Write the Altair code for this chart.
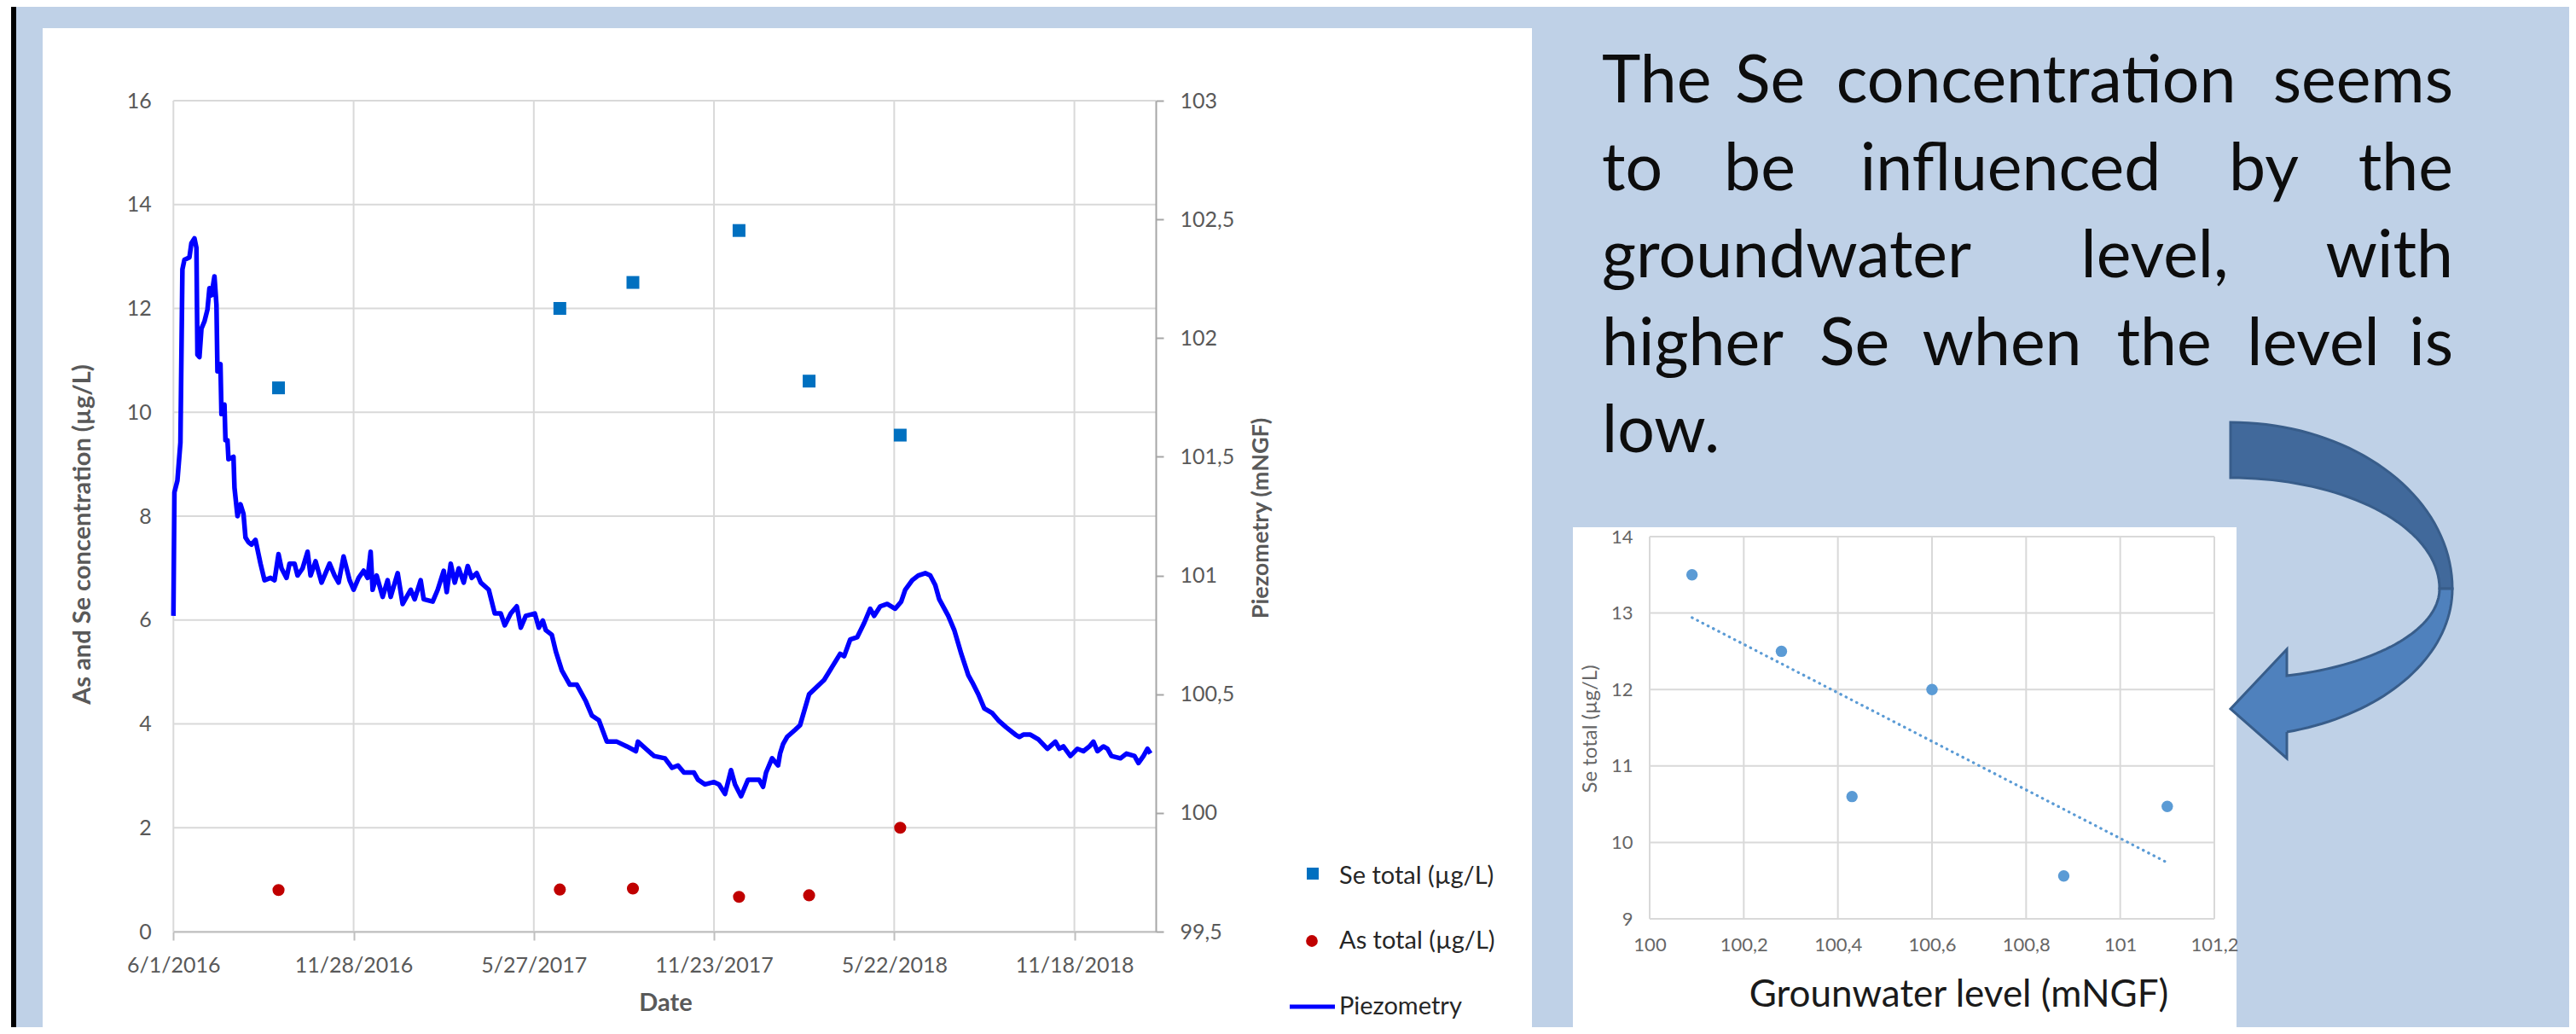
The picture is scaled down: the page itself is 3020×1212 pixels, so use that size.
import altair as alt
import numpy as np
import pandas as pd

# ---------------- data ----------------
START = pd.Timestamp("2016-06-01")

sample_dates = ["2016-09-14", "2017-06-22", "2017-09-03", "2017-12-18", "2018-02-26", "2018-05-28"]
se_total = [10.47, 12.0, 12.5, 13.5, 10.6, 9.56]
as_total = [0.80, 0.81, 0.83, 0.67, 0.70, 2.0]

# piezometry: days since 2016-06-01 and level (mNGF)
piezo_day = [0, 1, 4, 7, 9, 11, 16, 18, 21, 23, 24, 26, 28, 31, 34, 36, 38, 41, 43, 44, 47, 48, 51, 52, 54,
             55, 60, 61, 64, 67, 70, 72, 75, 78, 82, 87, 91, 97, 101, 105, 108, 113, 116, 121, 124, 129,
             134, 137, 142, 148, 156, 161, 165, 170, 176, 180, 185, 190, 194, 197, 199, 203, 209, 214,
             217, 224, 229, 237, 241, 247, 250, 259, 264, 270, 273, 277, 281, 285, 290, 294, 298, 303,
             307, 315, 321, 327, 331, 337, 343, 347, 352, 361, 365, 369, 372, 378, 382, 388, 396, 403,
             412, 418, 425, 433, 443, 453, 462, 464, 472, 480, 491, 498, 504, 510, 520, 524, 531, 540,
             545, 551, 557, 561, 567, 574, 579, 585, 589, 592, 598, 604, 606, 609, 613, 621, 626, 635,
             650, 666, 670, 676, 683, 690, 696, 700, 706, 713, 721, 727, 731, 738, 744, 751, 756, 761,
             765, 774, 780, 787, 794, 798, 804, 810, 818, 824, 832, 841, 845, 849, 856, 864, 873, 881,
             885, 889, 896, 903, 909, 915, 919, 923, 929, 933, 937, 946, 952, 960, 964, 969, 973, 976]
piezo_level = [100.83, 101.35, 101.40, 101.56, 102.29, 102.33, 102.34, 102.40, 102.42, 102.38, 101.93,
               101.92, 102.04, 102.07, 102.12, 102.21, 102.18, 102.26, 102.14, 101.86, 101.89, 101.68,
               101.72, 101.57, 101.57, 101.49, 101.50, 101.37, 101.25, 101.30, 101.26, 101.16, 101.14,
               101.13, 101.15, 101.05, 100.98, 100.99, 100.98, 101.09, 101.03, 100.99, 101.05, 101.05,
               101.00, 101.03, 101.10, 101.00, 101.06, 100.97, 101.05, 101.00, 100.97, 101.08, 100.98,
               100.94, 100.99, 101.02, 100.99, 101.10, 100.94, 101.00, 100.91, 100.98, 100.91, 101.01,
               100.88, 100.94, 100.90, 100.98, 100.90, 100.89, 100.94, 101.02, 100.93, 101.05, 100.97,
               101.03, 100.97, 101.04, 100.99, 101.01, 100.97, 100.94, 100.84, 100.84, 100.79, 100.84,
               100.87, 100.78, 100.83, 100.84, 100.78, 100.81, 100.77, 100.75, 100.68, 100.60, 100.54,
               100.54, 100.47, 100.41, 100.39, 100.30, 100.30, 100.28, 100.26, 100.30, 100.27, 100.24,
               100.23, 100.19, 100.20, 100.17, 100.17, 100.14, 100.12, 100.13, 100.12, 100.08, 100.18,
               100.12, 100.07, 100.14, 100.14, 100.14, 100.11, 100.17, 100.23, 100.20, 100.25, 100.29,
               100.32, 100.35, 100.37, 100.50, 100.56, 100.67, 100.66, 100.73, 100.74, 100.80, 100.86,
               100.83, 100.87, 100.88, 100.86, 100.89, 100.94, 100.98, 101.00, 101.01, 101.00, 100.96,
               100.90, 100.83, 100.77, 100.67, 100.58, 100.55, 100.50, 100.44, 100.42, 100.39, 100.36,
               100.33, 100.32, 100.33, 100.33, 100.31, 100.27, 100.30, 100.27, 100.28, 100.24, 100.27,
               100.26, 100.28, 100.30, 100.26, 100.28, 100.27, 100.24, 100.23, 100.25, 100.24, 100.21,
               100.24, 100.27, 100.25]

# inset scatter: Se total vs groundwater level
inset_level = [100.09, 100.28, 100.43, 100.60, 100.88, 101.10]
inset_se = [13.5, 12.5, 10.6, 12.0, 9.56, 10.47]

x_tick_days = [0, 180, 360, 540, 720, 900]
left_ticks = [0, 2, 4, 6, 8, 10, 12, 14, 16]
right_ticks = [99.5, 100, 100.5, 101, 101.5, 102, 102.5, 103]
inset_x_ticks = [100.0, 100.2, 100.4, 100.6, 100.8, 101.0, 101.2]
inset_y_ticks = [9, 10, 11, 12, 13, 14]

legend_labels = ["Se total (µg/L)", "As total (µg/L)", "Piezometry"]

text_lines = [
    ["The", "Se", "concentration", "seems"],
    ["to", "be", "influenced", "by", "the"],
    ["groundwater", "level,", "with"],
    ["higher", "Se", "when", "the", "level", "is"],
    ["low."],
]

# ---------------- layout (pixels in chart space) ----------------
W, H = 3004, 1196
X0, X1, YT, YB = 195.3, 1347.0, 110.0, 1084.0
XMAX_DAY = 981.3
IX0, IX1, IYT, IYB = 1926.0, 2588.0, 621.0, 1069.0

FONT = "Lato"
GRID = "#D9D9D9"
AXC = "#595959"

samples = pd.DataFrame({
    "day": (pd.to_datetime(sample_dates) - START).days,
    "se": se_total,
    "as_": as_total,
})
piezo = pd.DataFrame({"day": piezo_day, "level": piezo_level})
inset = pd.DataFrame({"level": inset_level, "se": inset_se})

# ---------------- scales & axes ----------------
x_scale = alt.Scale(domain=[0, XMAX_DAY], range=[X0, X1], nice=False, zero=False)
yl_scale = alt.Scale(domain=[0, 16], range=[YB, YT], nice=False, zero=False)
yr_scale = alt.Scale(domain=[99.5, 103], range=[YB, YT], nice=False, zero=False)

x_axis = alt.Axis(
    orient="bottom", offset=-(H - YB), values=x_tick_days, grid=False,
    labelExpr="utcFormat(utc(2016, 5, 1 + datum.value), '%-m/%-d/%Y')",
    domain=True, domainColor="#BFBFBF", domainWidth=2,
    ticks=True, tickColor="#BFBFBF", tickWidth=2, tickSize=10,
    labelFont=FONT, labelFontSize=25, labelColor=AXC, labelPadding=29,
    labelBaseline="middle", labelFlush=False, labelOverlap=False,
    title="Date", titleFont=FONT, titleFontSize=29, titleFontWeight="bold", titleColor=AXC,
    titleX=772, titleY=83, titleAlign="center", titleBaseline="middle", titleAngle=0,
    zindex=1,
)
yl_axis = alt.Axis(
    orient="left", offset=-X0, values=left_ticks, grid=False, domain=False, ticks=False,
    labelFont=FONT, labelFontSize=25, labelColor=AXC, labelPadding=26, labelOverlap=False,
    title="As and Se concentration (µg/L)", titleFont=FONT, titleFontSize=29,
    titleFontWeight="bold", titleColor=AXC, titleX=-107, titleY=618, titleAngle=270,
    titleAlign="center", titleBaseline="middle", zindex=1,
)
yr_axis = alt.Axis(
    orient="right", offset=-(W - X1), values=right_ticks, grid=False,
    labelExpr="replace(format(datum.value, '.1~f'), '.', ',')",
    domain=True, domainColor="#A6A6A6", domainWidth=2,
    ticks=True, tickColor="#A6A6A6", tickWidth=2, tickSize=9,
    labelFont=FONT, labelFontSize=25, labelColor=AXC, labelPadding=19, labelOverlap=False,
    title="Piezometry (mNGF)", titleFont=FONT, titleFontSize=27, titleFontWeight="bold",
    titleColor=AXC, titleX=123, titleY=599, titleAngle=270, titleAlign="center",
    titleBaseline="middle", zindex=1,
)

ix_scale = alt.Scale(domain=[100, 101.2], range=[IX0, IX1], nice=False, zero=False)
iy_scale = alt.Scale(domain=[9, 14], range=[IYB, IYT], nice=False, zero=False)
ix_axis = alt.Axis(
    orient="bottom", offset=-(H - IYB), values=inset_x_ticks, grid=False, domain=False, ticks=False,
    labelExpr="replace(format(datum.value, '.1~f'), '.', ',')",
    labelFont=FONT, labelFontSize=22, labelColor="#666666", labelPadding=30,
    labelBaseline="middle", labelFlush=False, labelOverlap=False,
    title="Grounwater level (mNGF)", titleFont=FONT, titleFontSize=44, titleFontWeight="normal",
    titleColor="#1a1a1a", titleX=2288, titleY=89, titleAlign="center", titleBaseline="middle",
    titleAngle=0, zindex=1,
)
iy_axis = alt.Axis(
    orient="left", offset=-IX0, values=inset_y_ticks, grid=False, domain=False, ticks=False,
    labelFont=FONT, labelFontSize=22, labelColor="#666666", labelPadding=20, labelOverlap=False,
    title="Se total (µg/L)", titleFont=FONT, titleFontSize=24, titleFontWeight="normal",
    titleColor="#666666", titleX=-70, titleY=846, titleAngle=270, titleAlign="center",
    titleBaseline="middle", zindex=1,
)

# ---------------- decoration: backgrounds / panels ----------------
decor = pd.DataFrame({
    "x": [0, 5, 42, 1836], "x2": [5, 11, 1788, 2614],
    "y": [0, 0, 25, 610], "y2": [H, H, H, H],
    "c": ["#FFFFFF", "#000000", "#FFFFFF", "#FFFFFF"],
})
decor_layer = alt.Chart(decor).mark_rect().encode(
    x=alt.X("x:Q", scale=None, axis=None), x2="x2:Q",
    y=alt.Y("y:Q", scale=None, axis=None), y2="y2:Q",
    color=alt.Color("c:N", scale=None, legend=None),
)

# ---------------- main chart ----------------
grid_v = alt.Chart(pd.DataFrame({"d": x_tick_days})).mark_rule(color=GRID, strokeWidth=2).encode(
    x=alt.X("d:Q", scale=x_scale, axis=x_axis), y=alt.value(YT), y2=alt.value(YB))
grid_h = alt.Chart(pd.DataFrame({"v": left_ticks})).mark_rule(color=GRID, strokeWidth=2).encode(
    y=alt.Y("v:Q", scale=yl_scale, axis=yl_axis), x=alt.value(X0), x2=alt.value(X1))
se_layer = alt.Chart(samples).mark_point(shape="square", filled=True, size=225, color="#0070C0", opacity=1).encode(
    x=alt.X("day:Q", scale=x_scale, axis=x_axis), y=alt.Y("se:Q", scale=yl_scale, axis=yl_axis))
as_layer = alt.Chart(samples).mark_point(shape="circle", filled=True, size=200, color="#C00000", opacity=1).encode(
    x=alt.X("day:Q", scale=x_scale, axis=x_axis), y=alt.Y("as_:Q", scale=yl_scale, axis=yl_axis))
piezo_layer = alt.Chart(piezo).mark_line(color="#0000FF", strokeWidth=5.5, strokeJoin="round").encode(
    x=alt.X("day:Q", scale=x_scale, axis=x_axis), y=alt.Y("level:Q", scale=yr_scale, axis=yr_axis))

main_left = alt.layer(grid_v, grid_h, se_layer, as_layer)
main = alt.layer(main_left, piezo_layer).resolve_scale(y="independent")

# ---------------- inset scatter ----------------
igrid_v = alt.Chart(pd.DataFrame({"g": inset_x_ticks})).mark_rule(color=GRID, strokeWidth=2).encode(
    x=alt.X("g:Q", scale=ix_scale, axis=ix_axis), y=alt.value(IYT), y2=alt.value(IYB))
igrid_h = alt.Chart(pd.DataFrame({"h": inset_y_ticks})).mark_rule(color=GRID, strokeWidth=2).encode(
    y=alt.Y("h:Q", scale=iy_scale, axis=iy_axis), x=alt.value(IX0), x2=alt.value(IX1))
ipts = alt.Chart(inset).mark_point(shape="circle", filled=True, size=180, color="#5B9BD5", opacity=1).encode(
    x=alt.X("level:Q", scale=ix_scale, axis=ix_axis), y=alt.Y("se:Q", scale=iy_scale, axis=iy_axis))
itrend = alt.Chart(inset).transform_regression("level", "se").mark_line(
    color="#5B9BD5", strokeWidth=3.2, strokeDash=[0.5, 6.5], strokeCap="round").encode(
    x=alt.X("level:Q", scale=ix_scale, axis=ix_axis), y=alt.Y("se:Q", scale=iy_scale, axis=iy_axis))
inset_chart = alt.layer(igrid_v, igrid_h, itrend, ipts)

# ---------------- justified text block ----------------
line_baselines = [112, 215, 317, 419.5, 521.5]
word_centers = [
    [1931, 2067, 2379, 2762],
    [1904, 2055, 2349, 2646, 2813],
    [2093, 2518, 2795],
    [1979, 2166, 2339, 2529, 2704, 2835],
    [1938],
]
TEXT_L, TEXT_R = 1870, 2868
rows = []
for li, words in enumerate(text_lines):
    for wi, w in enumerate(words):
        if wi == 0:
            al, xx = "left", TEXT_L
        elif wi == len(words) - 1:
            al, xx = "right", TEXT_R
        else:
            al, xx = "center", word_centers[li][wi]
        rows.append({"w": w, "x": xx, "y": line_baselines[li], "al": al})
words_df = pd.DataFrame(rows)
text_layers = []
for al in ["left", "center", "right"]:
    text_layers.append(
        alt.Chart(words_df[words_df["al"] == al]).mark_text(
            align=al, baseline="alphabetic", font=FONT, fontSize=77, color="#0d0d0d").encode(
            x=alt.X("x:Q", scale=None, axis=None), y=alt.Y("y:Q", scale=None, axis=None), text="w:N"))

# ---------------- custom legend ----------------
one = pd.DataFrame({"k": [0]})
leg_sq = alt.Chart(one).mark_point(shape="square", filled=True, size=196, color="#0070C0", opacity=1).encode(
    x=alt.value(1531), y=alt.value(1016))
leg_ci = alt.Chart(one).mark_point(shape="circle", filled=True, size=190, color="#C00000", opacity=1).encode(
    x=alt.value(1530), y=alt.value(1095))
leg_ln = alt.Chart(one).mark_rule(color="#0000FF", strokeWidth=5).encode(
    x=alt.value(1504), x2=alt.value(1557), y=alt.value(1172))
leg_txt = alt.Chart(pd.DataFrame({"t": legend_labels, "y": [1019, 1095, 1172]})).mark_text(
    align="left", baseline="middle", font=FONT, fontSize=29, color="#262626").encode(
    x=alt.value(1562), y=alt.Y("y:Q", scale=None, axis=None), text="t:N")

# ---------------- curved arrow ----------------
def arc(cx, cy, rx, ry, a0, a1, n=40):
    t = np.radians(np.linspace(a0, a1, n))
    return [(cx + rx * np.cos(v), cy + ry * np.sin(v)) for v in t]

ACX, ACY = 2607, 682          # ellipse centre (chart px)
back_pts = arc(ACX, ACY, 260, 195, -90, 0) + arc(ACX, ACY, 245, 130, 0, -90)
ti = np.degrees(np.arccos(66 / 245))
to = np.degrees(np.arccos(66 / 260))
front_pts = (arc(ACX, ACY, 245, 106, 0, ti)
             + [(2673, 753), (2607, 823), (2673, 881), (2673, 850)]
             + arc(ACX, ACY, 260, 173.7, to, 0))
SCX, SCY, R = 2737, 684, 200.0

def to_path(pts):
    return "M" + " L".join(f"{(x - SCX) / R:.4f},{(y - SCY) / R:.4f}" for x, y in pts) + " Z"

arrow_back = alt.Chart(one).mark_point(
    shape=to_path(back_pts), filled=True, size=(2 * R) ** 2, fill="#41699B",
    stroke="#385D8A", strokeWidth=3, opacity=1).encode(x=alt.value(SCX), y=alt.value(SCY))
arrow_front = alt.Chart(one).mark_point(
    shape=to_path(front_pts), filled=True, size=(2 * R) ** 2, fill="#4F81BD",
    stroke="#385D8A", strokeWidth=3, opacity=1).encode(x=alt.value(SCX), y=alt.value(SCY))

chart = alt.layer(
    decor_layer, main, inset_chart, *text_layers, leg_sq, leg_ci, leg_ln, leg_txt,
    arrow_back, arrow_front,
).resolve_scale(x="independent", y="independent").properties(
    width=W, height=H, autosize=alt.AutoSizeParams(type="none"), padding=0,
    background="#BFD1E7",
).configure_view(strokeWidth=0)

chart.save("out.html", embed_options={"renderer": "svg", "actions": False})
